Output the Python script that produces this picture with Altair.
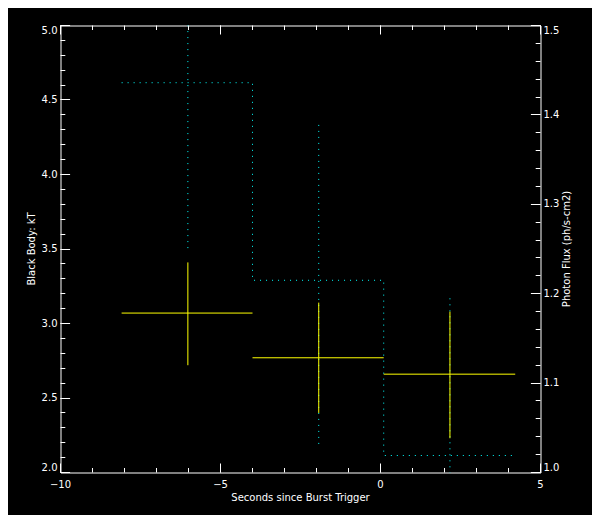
import altair as alt
import pandas as pd

# Time bins (seconds since burst trigger)
t_start = [-8.09, -4.00, 0.10]
t_end = [-4.00, 0.10, 4.21]
t_center = [-6.02, -1.93, 2.17]
# Black-body temperature kT with its error bar
kT = [3.07, 2.77, 2.66]
kT_lo = [2.72, 2.40, 2.23]
kT_hi = [3.41, 3.14, 3.08]
# Photon flux (ph/s-cm2) with its error bar
flux = [1.436, 1.215, 1.019]
flux_lo = [1.251, 1.032, 0.838]
flux_hi = [1.621, 1.394, 1.200]

# Tick values
x_major = [-10, -5, 0, 5]
x_minor = [-10, -9, -8, -7, -6, -5, -4, -3, -2, -1, 0, 1, 2, 3, 4, 5]
kT_major = [2.0, 2.5, 3.0, 3.5, 4.0, 4.5, 5.0]
kT_minor = [2.0, 2.1, 2.2, 2.3, 2.4, 2.5, 2.6, 2.7, 2.8, 2.9, 3.0, 3.1, 3.2, 3.3,
            3.4, 3.5, 3.6, 3.7, 3.8, 3.9, 4.0, 4.1, 4.2, 4.3, 4.4, 4.5, 4.6, 4.7,
            4.8, 4.9, 5.0]
flux_major = [1.0, 1.1, 1.2, 1.3, 1.4, 1.5]
flux_minor = [1.00, 1.02, 1.04, 1.06, 1.08, 1.10, 1.12, 1.14, 1.16, 1.18, 1.20,
              1.22, 1.24, 1.26, 1.28, 1.30, 1.32, 1.34, 1.36, 1.38, 1.40, 1.42,
              1.44, 1.46, 1.48, 1.50]

bins = pd.DataFrame({
    "t_start": t_start, "t_end": t_end, "t_center": t_center,
    "kT": kT, "kT_lo": kT_lo, "kT_hi": kT_hi,
    "flux": flux, "flux_lo": flux_lo, "flux_hi": flux_hi,
})

step_rows = []
for i in range(len(flux)):
    step_rows.append({"t": t_start[i], "flux": flux[i], "i": 2 * i})
    step_rows.append({"t": t_end[i], "flux": flux[i], "i": 2 * i + 1})
step = pd.DataFrame(step_rows)

FONT = "DejaVu Sans"
WHITE = "#ffffff"
YELLOW = "#ffff00"
CYAN = "#00ffff"

x_scale = alt.Scale(domain=[-10, 5], nice=False, zero=False)
kT_scale = alt.Scale(domain=[2, 5], nice=False, zero=False)
flux_scale = alt.Scale(domain=[1.0, 1.5], nice=False, zero=False)


def ax(**kw):
    base = dict(domain=False, grid=False, ticks=True, tickColor=WHITE, tickWidth=1,
                labelColor=WHITE, labelFont=FONT, labelFontSize=10,
                titleColor=WHITE, titleFont=FONT, titleFontSize=10,
                titleFontWeight="normal", translate=0, labelOverlap=False)
    base.update(kw)
    return alt.Axis(**base)


flux_err = alt.Chart(bins).mark_rule(
    color=CYAN, strokeWidth=1, strokeDash=[1, 5], clip=True
).encode(
    x=alt.X("t_center:Q", scale=x_scale,
            axis=ax(orient="top", values=x_minor, offset=-4.5, tickSize=4.5,
                    labels=False, title=None)),
    y=alt.Y("flux_lo:Q", scale=flux_scale,
            axis=ax(orient="right", values=flux_minor, offset=-4.8, tickSize=4.8,
                    labels=False, title=None)),
    y2="flux_hi:Q",
)

flux_step = alt.Chart(step).mark_line(
    color=CYAN, strokeWidth=1, strokeDash=[1, 5], clip=True
).encode(
    x=alt.X("t:Q", scale=x_scale,
            axis=ax(orient="top", values=x_major, offset=-9, tickSize=9,
                    labels=False, title=None)),
    y=alt.Y("flux:Q", scale=flux_scale,
            axis=ax(orient="right", values=flux_major, offset=-9.6, tickSize=9.6,
                    labelPadding=3, labelFlush=True, format=".1f",
                    title="Photon Flux (ph/s-cm2)", titleAngle=270,
                    titleBaseline="top", titleAlign="center", titlePadding=3)),
    order="i:Q",
)

kT_h = alt.Chart(bins).mark_rule(color=YELLOW, strokeWidth=1).encode(
    x=alt.X("t_start:Q", scale=x_scale,
            axis=ax(orient="bottom", values=x_major, offset=-9, tickSize=9,
                    labelPadding=7, labelFlush=False, format="d",
                    title="Seconds since Burst Trigger", titlePadding=3)),
    x2="t_end:Q",
    y=alt.Y("kT:Q", scale=kT_scale,
            axis=ax(orient="left", values=kT_major, offset=-9.6, tickSize=9.6,
                    labelPadding=3, labelFlush=True, format=".1f",
                    title="Black Body: kT", titlePadding=5)),
)

kT_v = alt.Chart(bins).mark_rule(color=YELLOW, strokeWidth=1).encode(
    x=alt.X("t_center:Q", scale=x_scale,
            axis=ax(orient="bottom", values=x_minor, offset=-4.5, tickSize=4.5,
                    labels=False, title=None)),
    y=alt.Y("kT_lo:Q", scale=kT_scale,
            axis=ax(orient="left", values=kT_minor, offset=-4.8, tickSize=4.8,
                    labels=False, title=None)),
    y2="kT_hi:Q",
)

chart = alt.layer(flux_err, flux_step, kT_h, kT_v).resolve_scale(
    x="independent", y="independent"
).resolve_axis(
    x="independent", y="independent"
).properties(
    width=480,
    height=447,
    background="#000000",
    padding={"left": 52.5, "top": 17.5, "right": 51.5, "bottom": 42.5},
    autosize=alt.AutoSizeParams(type="none"),
).configure_view(stroke=WHITE, strokeWidth=1)

chart.save("out.html", embed_options={"renderer": "svg", "actions": False})
